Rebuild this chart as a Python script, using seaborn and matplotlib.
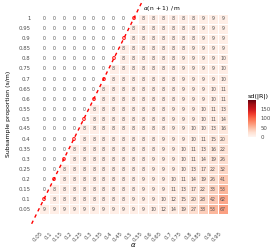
import numpy as np
import pandas as pd
import seaborn as sns
import matplotlib.pyplot as plt

# alpha levels (columns) and subsample proportions (rows, top to bottom)
alphas = [0.05, 0.1, 0.15, 0.2, 0.25, 0.3, 0.35, 0.4, 0.45, 0.5,
          0.55, 0.6, 0.65, 0.7, 0.75, 0.8, 0.85, 0.9, 0.95]
alpha_labels = ['0.05', '0.1', '0.15', '0.2', '0.25', '0.3', '0.35', '0.4', '0.45', '0.5',
                '0.55', '0.6', '0.65', '0.7', '0.75', '0.8', '0.85', '0.9', '0.95']
props = [1, 0.95, 0.9, 0.85, 0.8, 0.75, 0.7, 0.65, 0.6, 0.55,
         0.5, 0.45, 0.4, 0.35, 0.3, 0.25, 0.2, 0.15, 0.1, 0.05]
prop_labels = ['1', '0.95', '0.9', '0.85', '0.8', '0.75', '0.7', '0.65', '0.6', '0.55',
               '0.5', '0.45', '0.4', '0.35', '0.3', '0.25', '0.2', '0.15', '0.1', '0.05']

# sd(|R|) per row (same order as props), 0 = nothing rejected
sd_values = [
    [0, 0, 0, 0, 0, 0, 0, 0, 0, 0, 8, 8, 8, 8, 8, 8, 9, 9, 9],
    [0, 0, 0, 0, 0, 0, 0, 0, 0, 8, 8, 8, 8, 8, 8, 8, 9, 9, 9],
    [0, 0, 0, 0, 0, 0, 0, 0, 0, 8, 8, 8, 8, 8, 8, 8, 9, 9, 9],
    [0, 0, 0, 0, 0, 0, 0, 0, 8, 8, 8, 8, 8, 8, 8, 9, 9, 9, 9],
    [0, 0, 0, 0, 0, 0, 0, 0, 8, 8, 8, 8, 8, 8, 9, 9, 9, 9, 10],
    [0, 0, 0, 0, 0, 0, 0, 8, 8, 8, 8, 8, 8, 8, 9, 9, 9, 9, 10],
    [0, 0, 0, 0, 0, 0, 0, 8, 8, 8, 8, 8, 8, 8, 9, 9, 9, 9, 10],
    [0, 0, 0, 0, 0, 0, 8, 8, 8, 8, 8, 8, 8, 8, 9, 9, 9, 10, 11],
    [0, 0, 0, 0, 0, 0, 8, 8, 8, 8, 8, 8, 8, 8, 9, 9, 9, 10, 11],
    [0, 0, 0, 0, 0, 8, 8, 8, 8, 8, 8, 8, 8, 9, 9, 9, 10, 11, 13],
    [0, 0, 0, 0, 0, 8, 8, 8, 8, 8, 8, 8, 8, 9, 9, 9, 10, 11, 14],
    [0, 0, 0, 0, 8, 8, 8, 8, 8, 8, 8, 8, 8, 9, 9, 10, 10, 13, 16],
    [0, 0, 0, 0, 8, 8, 8, 8, 8, 8, 8, 8, 9, 9, 9, 10, 11, 15, 20],
    [0, 0, 0, 8, 8, 8, 8, 8, 8, 8, 8, 8, 9, 9, 10, 11, 13, 16, 22],
    [0, 0, 0, 8, 8, 8, 8, 8, 8, 8, 8, 9, 9, 9, 10, 11, 14, 19, 26],
    [0, 0, 8, 8, 8, 8, 8, 8, 8, 8, 8, 9, 9, 9, 10, 13, 17, 22, 32],
    [0, 0, 8, 8, 8, 8, 8, 8, 8, 8, 9, 9, 9, 10, 11, 14, 19, 26, 41],
    [0, 8, 8, 8, 8, 8, 8, 8, 8, 8, 9, 9, 9, 11, 13, 17, 22, 33, 53],
    [0, 8, 8, 8, 8, 8, 8, 8, 8, 9, 9, 9, 10, 12, 15, 20, 28, 42, 62],
    [9, 9, 9, 9, 9, 9, 9, 9, 9, 9, 9, 10, 12, 14, 19, 27, 38, 53, 67],
]
cbar_ticks = [0, 50, 100, 150]

df = pd.DataFrame(sd_values, index=prop_labels, columns=alpha_labels)

fig = plt.figure(figsize=(2.74, 2.49), dpi=100)
ax = fig.add_axes([39 / 274, 1 - 214 / 249, 189 / 274, 200 / 249])
cax = fig.add_axes([248 / 274, 1 - 137 / 249, 8 / 274, 37 / 249])

sns.heatmap(df, mask=(df == 0), cmap='Reds', vmin=0, vmax=200,
            linewidths=0.5, linecolor='white', cbar_ax=cax,
            cbar_kws={'ticks': cbar_ticks}, xticklabels=True, yticklabels=True, ax=ax)

# cell labels; cells sitting on s/m = 2*alpha are shown in red
for j, s in enumerate(props):
    for i, a in enumerate(alphas):
        on_line = abs(2 * a - s) < 1e-9
        ax.text(i + 0.5, j + 0.5, str(sd_values[j][i]), ha='center', va='center',
                fontsize=4.2 if on_line else 3.4,
                color='red' if on_line else '#555555',
                fontweight='bold' if on_line else 'normal', zorder=4)

# boundary line alpha(n+1)/m
a_line = np.array([-0.012, 0.548])
ax.plot(a_line / 0.05 - 0.5, (1 - 2 * a_line) / 0.05 + 0.5, color='red',
        ls=(0, (2.5, 2.5)), lw=1.0, clip_on=False, zorder=5)
ax.text(10.45, -0.55, r'$\alpha$(n + 1) / m', fontsize=4.3, ha='left', va='center')

ax.set_xticklabels(alpha_labels, rotation=45, ha='right', va='top', fontsize=3.9,
                   color='#4d4d4d')
ax.set_yticklabels(prop_labels, rotation=0, fontsize=3.9, color='#4d4d4d')
ax.tick_params(axis='x', length=0, pad=12)
ax.tick_params(axis='y', length=0, pad=6)
ax.set_xlabel(r'$\alpha$', fontsize=5)
ax.xaxis.set_label_coords(0.5, -0.135)
ax.set_ylabel('Subsample proportion (s/m)', fontsize=4.4)
ax.yaxis.set_label_coords(-0.15, 0.5)

cax.tick_params(length=0, labelsize=3.9, labelcolor='#4d4d4d', pad=3)
cax.set_title('sd(|R|)', fontsize=4.6, loc='left', pad=2)

fig.savefig('out.png', dpi=100)
